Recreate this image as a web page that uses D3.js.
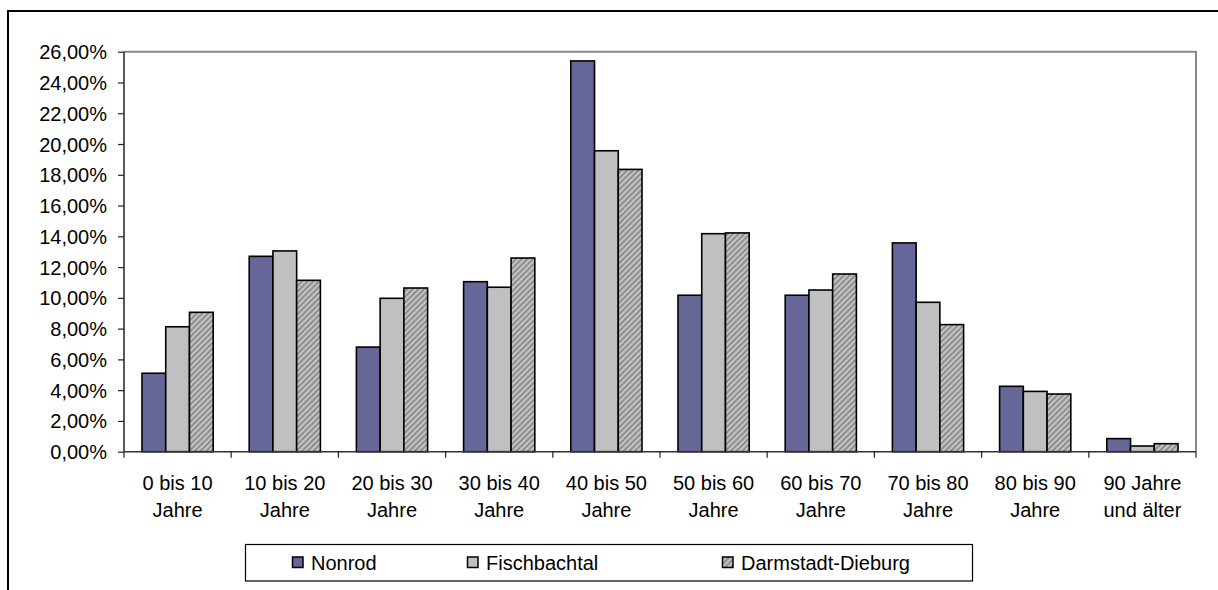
<!DOCTYPE html>
<html>
<head>
<meta charset="utf-8">
<script src="https://cdn.jsdelivr.net/npm/d3@7"></script>
<style>
  html, body { margin: 0; padding: 0; background: #fff; }
  svg { display: block; }
  text { font-family: "Liberation Sans", Arial, sans-serif; fill: #000; }
</style>
</head>
<body>
<svg id="chart" width="1218" height="590"></svg>
<script>
// Altersgruppen
const categories = [
  ["0 bis 10", "Jahre"],
  ["10 bis 20", "Jahre"],
  ["20 bis 30", "Jahre"],
  ["30 bis 40", "Jahre"],
  ["40 bis 50", "Jahre"],
  ["50 bis 60", "Jahre"],
  ["60 bis 70", "Jahre"],
  ["70 bis 80", "Jahre"],
  ["80 bis 90", "Jahre"],
  ["90 Jahre", "und älter"]
];

const seriesNames = ["Nonrod", "Fischbachtal", "Darmstadt-Dieburg"];

// Anteile in Prozent
const nonrod        = [5.10, 12.70, 6.80, 11.05, 25.40, 10.17, 10.17, 13.57, 4.25, 0.85];
const fischbachtal  = [8.12, 13.05, 9.97, 10.69, 19.56, 14.17, 10.51,  9.71, 3.92, 0.37];
const darmstadtDieb = [9.06, 11.14, 10.64, 12.59, 18.35, 14.22, 11.55,  8.26, 3.75, 0.52];

const yTicks = [0, 2, 4, 6, 8, 10, 12, 14, 16, 18, 20, 22, 24, 26];

const seriesValues = [nonrod, fischbachtal, darmstadtDieb];

const svg = d3.select("#chart");

// Muster für Darmstadt-Dieburg (schraffiert)
const defs = svg.append("defs");
const pat = defs.append("pattern")
  .attr("id", "hatch")
  .attr("patternUnits", "userSpaceOnUse")
  .attr("width", 4).attr("height", 4)
  .attr("patternTransform", "rotate(45)");
pat.append("rect").attr("width", 4).attr("height", 4).attr("fill", "#c4c4c4");
pat.append("rect").attr("width", 2).attr("height", 4).attr("fill", "#8e8e8e");

const fills = ["#666699", "#c0c0c0", "url(#hatch)"];

// Äußerer Rahmen
svg.append("path")
  .attr("d", "M8,590V11H1218")
  .attr("fill", "none")
  .attr("stroke", "#000")
  .attr("stroke-width", 2);

const plot = { left: 124, right: 1196, top: 51.7, bottom: 451.7 };

const x = d3.scaleBand()
  .domain(d3.range(categories.length))
  .range([plot.left, plot.right])
  .paddingInner(0).paddingOuter(0);

const groupPad = 18;
const xs = d3.scaleBand()
  .domain(d3.range(seriesNames.length))
  .range([groupPad, x.bandwidth() - groupPad])
  .padding(0);

const y = d3.scaleLinear()
  .domain([0, 26])
  .range([plot.bottom, plot.top]);

// Rahmen der Zeichenfläche (oben/rechts)
svg.append("path")
  .attr("d", `M${plot.left},${plot.top}H${plot.right}V${plot.bottom}`)
  .attr("fill", "none")
  .attr("stroke", "#8a8a8a")
  .attr("stroke-width", 2);

// Balken
const groups = svg.append("g").selectAll("g")
  .data(categories.map((c, i) => i))
  .join("g")
  .attr("transform", i => `translate(${x(i)},0)`);

groups.selectAll("rect")
  .data(i => seriesValues.map((vals, s) => ({ s, v: vals[i] })))
  .join("rect")
  .attr("x", d => xs(d.s))
  .attr("width", xs.bandwidth())
  .attr("y", d => y(d.v))
  .attr("height", d => y(0) - y(d.v))
  .attr("fill", d => fills[d.s])
  .attr("stroke", "#000")
  .attr("stroke-width", 1.6);

// Y-Achse
const de = d3.formatLocale({ decimal: ",", thousands: ".", grouping: [3], currency: ["", " €"] });
const fmt = v => de.format(".2f")(v) + "%";

const yAxis = svg.append("g")
  .attr("transform", `translate(${plot.left},0)`)
  .call(d3.axisLeft(y).tickValues(yTicks).tickFormat(fmt).tickSize(6).tickPadding(11));
yAxis.select(".domain").attr("stroke", "#222").attr("stroke-width", 1.5)
  .attr("d", `M0,${plot.top}V${plot.bottom}`);
yAxis.selectAll(".tick line").attr("stroke", "#222").attr("stroke-width", 1.2);
yAxis.selectAll(".tick text")
  .attr("font-size", 20)
  .attr("font-family", "Liberation Sans, Arial, sans-serif")
  .attr("dy", "0.35em");

// X-Achse
const xAxisG = svg.append("g").attr("transform", `translate(0,${plot.bottom})`);
xAxisG.append("line")
  .attr("x1", plot.left).attr("x2", plot.right)
  .attr("stroke", "#333").attr("stroke-width", 1.5);
xAxisG.selectAll("line.tick")
  .data(d3.range(categories.length + 1))
  .join("line")
  .attr("class", "tick")
  .attr("x1", i => i < categories.length ? x(i) : plot.right)
  .attr("x2", i => i < categories.length ? x(i) : plot.right)
  .attr("y1", 0).attr("y2", 6)
  .attr("stroke", "#222").attr("stroke-width", 1.2);

const labels = xAxisG.selectAll("text.cat")
  .data(categories)
  .join("text")
  .attr("class", "cat")
  .attr("text-anchor", "middle")
  .attr("font-size", 20)
  .attr("x", (d, i) => x(i) + x.bandwidth() / 2)
  .attr("y", 38.5);
labels.selectAll("tspan")
  .data(d => d)
  .join("tspan")
  .attr("x", function () { return d3.select(this.parentNode).attr("x"); })
  .attr("dy", (d, j) => j === 0 ? 0 : 27)
  .text(d => d);

// Legende
const legend = svg.append("g");
legend.append("rect")
  .attr("x", 245.5).attr("y", 544.5)
  .attr("width", 727).attr("height", 36.5)
  .attr("fill", "#fff").attr("stroke", "#000").attr("stroke-width", 1.2);

const legendX = [292.5, 467.5, 722.5];
const item = legend.selectAll("g.item")
  .data(seriesNames)
  .join("g")
  .attr("class", "item")
  .attr("transform", (d, i) => `translate(${legendX[i]},557)`);
item.append("rect")
  .attr("width", 10.5).attr("height", 10.5)
  .attr("fill", (d, i) => fills[i])
  .attr("stroke", "#000").attr("stroke-width", 1.5);
item.append("text")
  .attr("x", 18.5).attr("y", 12.5)
  .attr("font-size", 20)
  .text(d => d);
</script>
</body>
</html>
